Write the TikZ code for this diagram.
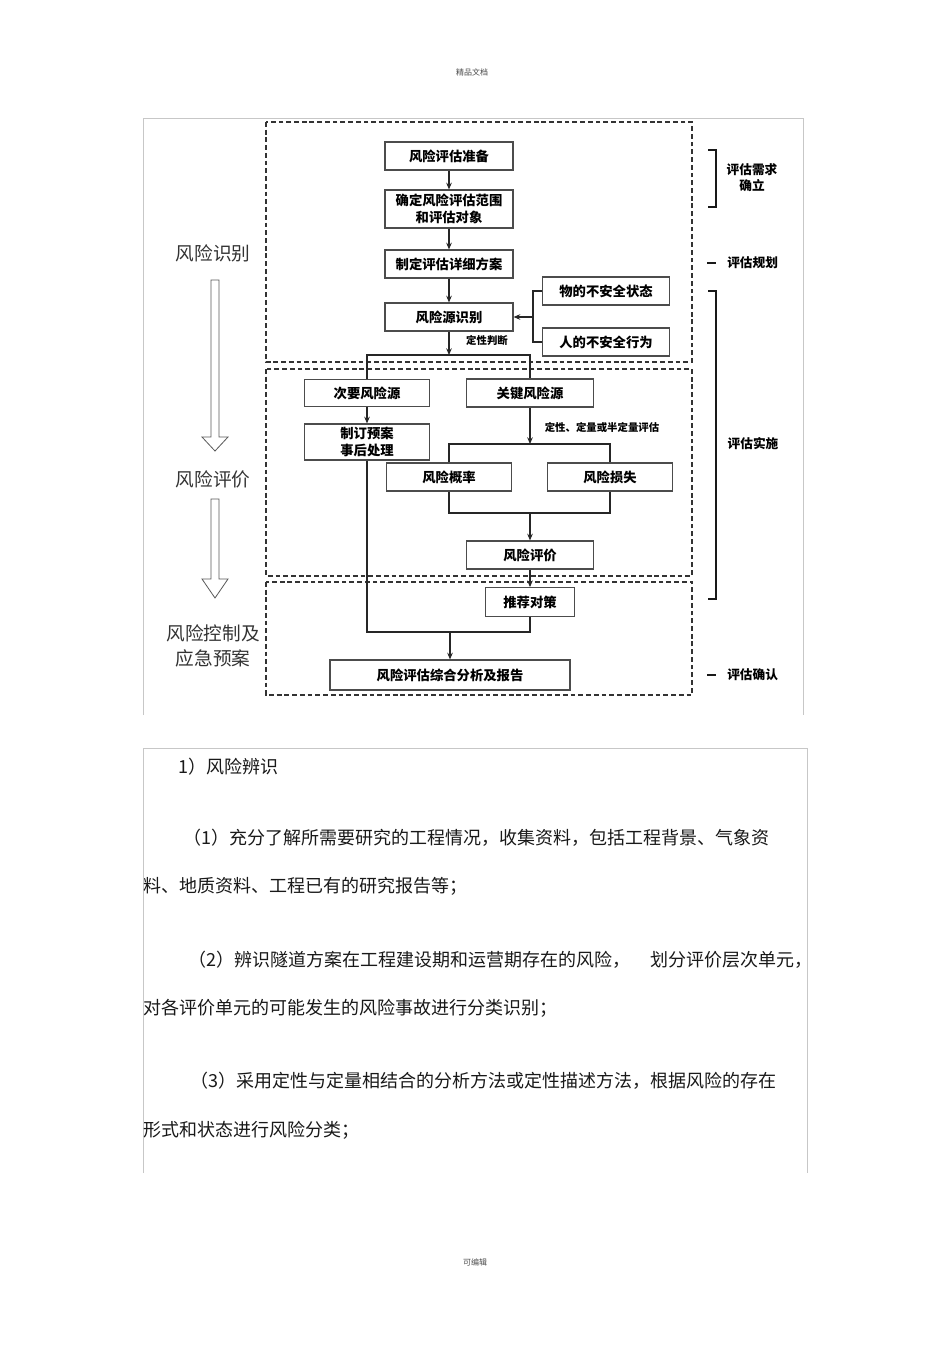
\documentclass[tikz,border=0pt]{standalone}
\usepackage{fontspec}
\setmainfont{Noto Sans CJK SC}
\usetikzlibrary{arrows.meta}
\begin{document}
\begin{tikzpicture}[x=0.75pt,y=-0.75pt,
  box/.style={draw=black!70,line width=0.9pt,fill=white,inner sep=0pt,align=center,
    font=\bfseries\fontsize{10}{12.5}\selectfont,minimum height=21pt},
  conn/.style={draw=black!85,line width=0.8pt},
  arr/.style={conn,-{Stealth[length=5pt,width=4.2pt]}},
  dbox/.style={draw=black!80,line width=1.1pt,dash pattern=on 3.6pt off 2.2pt},
  frame/.style={draw=black!22,line width=0.6pt},
  harrow/.style={draw=black!65,line width=0.6pt,fill=white},
  side/.style={font=\fontsize{14}{17}\selectfont,text=black!80,inner sep=0pt},
  rlab/.style={font=\bfseries\fontsize{9.5}{12}\selectfont,align=center,inner sep=0pt},
  brk/.style={draw=black!90,line width=1pt},
  clab/.style={font=\bfseries\fontsize{7.8}{9}\selectfont,inner sep=0pt},
  body/.style={font=\fontsize{13.5}{16}\selectfont,text=black!90,anchor=west,inner sep=0pt},
  tiny/.style={font=\fontsize{6}{7}\selectfont,text=black!70,inner sep=0pt}
]
\useasboundingbox (0,0) rectangle (950,1345);
\fill[white] (0,0) rectangle (950,1345);

% header / footer
\node[tiny] (hdr) at (472,72) {精品文档};
\node[tiny] (ftr) at (475,1262) {可编辑};

% frames
\draw[frame] (143,715) -- (143,118) -- (803,118) -- (803,715);
\draw[frame] (143,1173) -- (143,748) -- (807,748) -- (807,1173);

% dashed stage boxes
\draw[dbox] (266,122) rectangle (692,362);
\draw[dbox] (266,369) rectangle (692,576);
\draw[dbox] (266,582) rectangle (692,695);

% left side labels and hollow arrows
\node[side] (l1) at (213,253) {风险识别};
\node[side] (l2) at (213,479) {风险评价};
\node[side,align=center,font=\fontsize{14}{19}\selectfont] (l3) at (213,646) {风险控制及\\应急预案};
\draw[harrow] (211,280) -- (219,280) -- (219,437) -- (228,437) -- (215,451) -- (202,437) -- (211,437) -- cycle;
\draw[harrow] (211,499) -- (219,499) -- (219,579) -- (228,579) -- (215,598) -- (202,579) -- (211,579) -- cycle;

% boxes
\node[box,minimum width=96pt] (prep) at (449,156) {风险评估准备};
\node[box,minimum width=96pt,minimum height=28.5pt] (scope) at (449,209) {确定风险评估范围\\和评估对象};
\node[box,minimum width=96pt] (plan) at (449,264) {制定评估详细方案};
\node[box,minimum width=96pt] (ident) at (449,317) {风险源识别};
\node[box,minimum width=95pt] (thing) at (606,291) {物的不安全状态};
\node[box,minimum width=95pt] (human) at (606,342) {人的不安全行为};
\node[box,minimum width=94pt,minimum height=20.5pt] (minor) at (367,393) {次要风险源};
\node[box,minimum width=95pt] (key) at (530,393) {关键风险源};
\node[box,minimum width=94pt,minimum height=27pt] (prepl) at (367,442) {制订预案\\事后处理};
\node[box,minimum width=94pt] (prob) at (449,477) {风险概率};
\node[box,minimum width=94pt] (loss) at (610,477) {风险损失};
\node[box,minimum width=95pt] (eval) at (530,555) {风险评价};
\node[box,minimum width=67pt,minimum height=21.5pt] (meas) at (530,602) {推荐对策};
\node[box,minimum width=180pt,minimum height=22.5pt] (report) at (450,675) {风险评估综合分析及报告};

% connector labels
\node[clab] (qj) at (487,341) {定性判断};
\node[clab] (qe) at (602,428) {定性、定量或半定量评估};

% named junction coordinates
\coordinate (jb) at (533,317);
\coordinate (sp) at (449,355);
\coordinate (spl) at (367,355);
\coordinate (spr) at (530,355);
\coordinate (kb) at (530,444);
\coordinate (kbl) at (449,444);
\coordinate (kbr) at (610,444);
\coordinate (mb) at (530,513);
\coordinate (mbl) at (449,513);
\coordinate (mbr) at (610,513);
\coordinate (fb) at (450,632);
\coordinate (fbl) at (367,632);
\coordinate (fbr) at (530,632);

% connectors
\draw[arr] (prep) -- (scope);
\draw[arr] (scope) -- (plan);
\draw[arr] (plan) -- (ident);
\draw[conn] (thing.west) -| (jb) |- (human.west);
\draw[arr] (jb) -- (ident.east);
\draw[arr] (ident) -- (sp);
\draw[conn] (minor.north) -- (spl) -- (spr) -- (key.north);
\draw[arr] (minor) -- (prepl);
\draw[arr] (key) -- (kb);
\draw[conn] (prob.north) -- (kbl) -- (kbr) -- (loss.north);
\draw[conn] (prob.south) -- (mbl) -- (mbr) -- (loss.south);
\draw[arr] (mb) -- (eval);
\draw[arr] (eval) -- (meas);
\draw[conn] (prepl.south) -- (fbl) -- (fbr) -- (meas.south);
\draw[arr] (fb) -- (report);

% right side brackets and labels
\draw[brk] (708,150) -- (716,150) -- (716,207) -- (708,207);
\node[rlab] (r1) at (752,178) {评估需求\\确立};
\draw[brk] (707,263) -- (716,263);
\node[rlab,anchor=west] (r2) at (727,263) {评估规划};
\draw[brk] (708,291) -- (716,291) -- (716,599) -- (708,599);
\node[rlab] (r3) at (753,444) {评估实施};
\draw[brk] (707,675) -- (716,675);
\node[rlab,anchor=west] (r4) at (727,675) {评估确认};

% body text
\node[body] (t0) at (178,767) {1）风险辨识};
\node[body] (t1) at (183,838) {（1）充分了解所需要研究的工程情况，收集资料，包括工程背景、气象资};
\node[body] (t2) at (143,886) {料、地质资料、工程已有的研究报告等；};
\node[body] (t3) at (188,960) {（2）辨识隧道方案在工程建设期和运营期存在的风险，};
\node[body] (t3b) at (650,960) {划分评价层次单元，};
\node[body] (t4) at (143,1008) {对各评价单元的可能发生的风险事故进行分类识别；};
\node[body] (t5) at (190,1081) {（3）采用定性与定量相结合的分析方法或定性描述方法，根据风险的存在};
\node[body] (t6) at (143,1130) {形式和状态进行风险分类；};
\end{tikzpicture}
\end{document}
